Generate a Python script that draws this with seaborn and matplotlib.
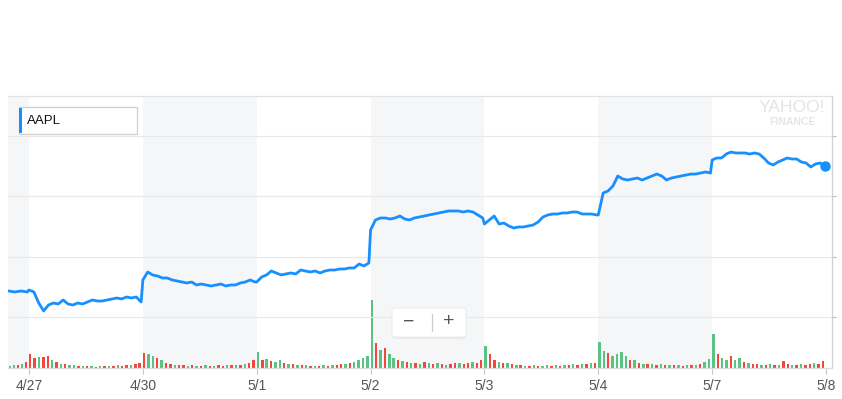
import numpy as np
import pandas as pd
import matplotlib
matplotlib.use("Agg")
import matplotlib.pyplot as plt
from matplotlib.patches import Rectangle, FancyBboxPatch
import seaborn as sns

sns.set_theme(style="white")
plt.rcParams["font.family"] = ["Liberation Sans", "DejaVu Sans"]

# --- data -------------------------------------------------------------
day_labels = ["4/27", "4/30", "5/1", "5/2", "5/3", "5/4", "5/7", "5/8"]

# AAPL price (USD), samples spread evenly over each session
price_prev = [164.31, 164.15, 164.31, 164.15]
price_0427 = [164.48, 164.15, 162.32, 161.00, 161.99, 162.32, 162.16, 162.82,
              162.16, 161.99, 162.32, 162.16, 162.49, 162.82, 162.65, 162.65,
              162.82, 162.99, 163.15, 162.99, 163.32, 163.15, 163.32, 162.49]
price_0430 = [166.14, 167.46, 166.97, 166.80, 166.47, 166.47, 166.14, 165.97,
              165.80, 165.64, 165.80, 165.31, 165.47, 165.31, 165.14, 165.31,
              165.47, 165.14, 165.31, 165.31, 165.64, 165.80, 166.14, 165.80]
price_0501 = [165.80, 166.63, 166.97, 167.63, 167.30, 166.97, 167.13, 167.30,
              167.13, 167.79, 167.63, 167.46, 167.63, 167.30, 167.63, 167.79,
              167.79, 167.96, 167.96, 168.13, 168.13, 168.79, 168.46, 168.96]
price_0502 = [174.43, 176.09, 176.42, 176.42, 176.25, 176.42, 176.75, 176.25,
              176.09, 176.42, 176.58, 176.75, 176.92, 177.08, 177.25, 177.41,
              177.58, 177.58, 177.58, 177.41, 177.58, 177.41, 176.92, 176.42]
price_0503 = [175.42, 176.09, 176.75, 175.42, 175.59, 175.09, 174.76, 174.93,
              174.93, 175.09, 175.26, 175.75, 176.58, 176.92, 177.08, 177.08,
              177.25, 177.25, 177.41, 177.41, 177.08, 177.08, 177.08, 176.92]
price_0504 = [176.92, 180.56, 180.90, 181.72, 183.38, 182.89, 182.72, 182.89,
              183.05, 182.72, 183.05, 183.38, 183.71, 183.38, 182.72, 183.05,
              183.22, 183.38, 183.55, 183.71, 183.71, 183.88, 184.05, 183.88]
price_0507 = [186.04, 186.37, 186.37, 187.03, 187.36, 187.20, 187.20, 187.20,
              187.03, 187.20, 187.03, 186.37, 185.54, 185.21, 185.70, 186.04,
              186.37, 186.20, 186.20, 185.70, 185.54, 184.88, 185.37, 185.54,
              185.04]

# volume per interval (100k shares) and direction (G = up, R = down)
vol_prev = [2, 3, 3, 4, 6]
dir_prev = "GGRGR"
vol_0427 = [14, 10, 11, 11, 12, 8, 6, 4, 4, 3, 3, 2, 2, 2, 2, 1, 2, 2, 2, 2, 3, 2, 3, 3, 4, 5]
dir_0427 = "RRGRRGRGRGGRGRGRGRGRGRRGRR"
vol_0430 = [15, 14, 12, 10, 8, 5, 4, 3, 3, 3, 2, 3, 2, 2, 3, 2, 2, 3, 2, 3, 3, 3, 3, 4, 5, 8]
dir_0430 = "RGGRGRRGRRGRGRGRGRRGRGRGRR"
vol_0501 = [16, 8, 9, 7, 6, 8, 5, 4, 4, 3, 3, 3, 2, 2, 2, 3, 2, 3, 3, 4, 4, 5, 6, 8, 10, 12]
dir_0501 = "GRGRGGRGRGRGRGRGRGRRGRGGGG"
vol_0502 = [68, 25, 18, 20, 14, 10, 8, 7, 6, 5, 5, 4, 6, 5, 4, 5, 4, 3, 4, 5, 5, 4, 5, 6, 5, 8]
dir_0502 = "GRGRGGRGRGRGRGRGRGRRGRRGRR"
vol_0503 = [22, 14, 8, 6, 5, 5, 4, 3, 3, 2, 2, 3, 2, 2, 3, 2, 3, 2, 3, 3, 4, 3, 4, 4, 5, 5]
dir_0503 = "GRRGRGRGRGRGRGGRGRGRGRGRGR"
vol_0504 = [26, 17, 15, 12, 14, 16, 12, 8, 8, 5, 4, 4, 4, 3, 4, 3, 3, 3, 3, 2, 3, 3, 3, 4, 6, 9]
dir_0504 = "GGRGGGGRGRGRGRGRGRGRGRGRGG"
vol_0507 = [34, 14, 10, 8, 12, 8, 10, 6, 5, 4, 4, 3, 3, 4, 3, 3, 7, 4, 3, 3, 4, 3, 4, 5, 4, 7]
dir_0507 = "GRGGRGGRGRRGRGRGRRGRGRRGRR"

price_days = [price_0427, price_0430, price_0501, price_0502, price_0503, price_0504, price_0507]
vol_days = [vol_0427, vol_0430, vol_0501, vol_0502, vol_0503, vol_0504, vol_0507]
dir_days = [dir_0427, dir_0430, dir_0501, dir_0502, dir_0503, dir_0504, dir_0507]

# --- build tables -----------------------------------------------------
PREV = 0.18
xs = list(np.linspace(-PREV, -0.015, len(price_prev)))
ps = list(price_prev)
for d, day in enumerate(price_days):
    end = 0.99 if d == len(price_days) - 1 else 0.985
    xs += list(d + np.linspace(0, end, len(day)))
    ps += day
price_df = pd.DataFrame({"t": xs, "price": ps})

vx = list(-PREV + np.arange(len(vol_prev)) * PREV / len(vol_prev))
vv = list(vol_prev)
vd = list(dir_prev)
for d, (vol, dr) in enumerate(zip(vol_days, dir_days)):
    vx += list(d + np.arange(len(vol)) / len(vol))
    vv += vol
    vd += list(dr)
vol_df = pd.DataFrame({"t": vx, "vol": vv, "dir": vd})

BLUE = "#188fff"
GREEN = "#5cc283"
RED = "#f0483d"
SHADE = "#f5f6f7"

# --- figure -----------------------------------------------------------
W, H = 842, 399
fig = plt.figure(figsize=(W / 100, H / 100), dpi=100)
fig.patch.set_facecolor("white")
ax = fig.add_axes([8 / W, 1 - 368 / H, 824 / W, 272 / H])
axv = ax.twinx()
ax.set_zorder(axv.get_zorder() + 1)
ax.patch.set_visible(False)

x_left = -(29 - 8) / 113.86
x_right = (832 - 29) / 113.86

# alternating day shading (background)
axv.axvspan(x_left, 0, color=SHADE, lw=0, zorder=0)
for d in (1, 3, 5):
    axv.axvspan(d, d + 1, color=SHADE, lw=0, zorder=0)

# volume bars
bw = 0.55 / 26
colors = vol_df["dir"].map({"G": GREEN, "R": RED})
axv.bar(vol_df["t"], vol_df["vol"], width=bw, align="edge", color=colors, lw=0, zorder=2)
axv.set_ylim(0, 272)
axv.set_yticks([])
for s in axv.spines.values():
    s.set_visible(False)

# price line
sns.lineplot(data=price_df, x="t", y="price", color=BLUE, lw=2.0, estimator=None,
             sort=False, ax=ax, zorder=5)
ax.plot(price_df["t"].iloc[-1], price_df["price"].iloc[-1], "o", ms=6.5,
        color=BLUE, zorder=6)

ax.set_xlim(x_left, x_right)
ax.set_ylim(151.54, 196.65)
ax.set_xlabel("")
ax.set_ylabel("")

ax.set_xticks(range(len(day_labels)))
ax.set_xticklabels(day_labels)
ax.tick_params(axis="x", bottom=True, length=4, width=0.8, color="#c8c8c8",
               labelsize=10, labelcolor="#555555", pad=4)

ax.yaxis.tick_right()
ax.set_yticks([160, 170, 180, 190])
ax.set_yticklabels([])
ax.tick_params(axis="y", right=True, length=3, width=0.8, color="#bbbbbb")
ax.grid(axis="y", color="#e8e8e8", lw=0.8)
ax.set_axisbelow(True)

for side in ("left",):
    ax.spines[side].set_visible(False)
ax.spines["top"].set_color("#e2e2e2")
ax.spines["right"].set_color("#d0d0d0")
ax.spines["bottom"].set_color("#dcdcdc")
for s in ("top", "right", "bottom"):
    ax.spines[s].set_linewidth(0.9)


def fx(px):
    return px / W


def fy(py):
    return 1 - py / H


# ticker legend box
fig.add_artist(Rectangle((fx(19), fy(134)), fx(137) - fx(19), fy(107) - fy(134),
                         transform=fig.transFigure, fc="white", ec="#cfcfcf", lw=0.9, zorder=10))
fig.add_artist(Rectangle((fx(19), fy(133)), fx(22) - fx(19), fy(108) - fy(133),
                         transform=fig.transFigure, fc=BLUE, ec="none", zorder=11))
fig.text(fx(27), fy(121), "AAPL", fontsize=9.5, color="#111111", va="center",
         ha="left", zorder=12)

# watermark
fig.text(fx(792), fy(107), "YAHOO!", fontsize=12.5, color="#e4e4e4",
         ha="center", va="center", zorder=3)
fig.text(fx(792), fy(122), "FINANCE", fontsize=7.5, fontweight="bold",
         color="#e6e6e6", ha="center", va="center", zorder=3)

# zoom control
fig.add_artist(FancyBboxPatch((fx(393), fy(339)), fx(466) - fx(393), fy(309) - fy(339),
                              boxstyle="round,pad=0,rounding_size=0.004",
                              transform=fig.transFigure, fc="#e6e6e6", ec="none",
                              alpha=0.7, zorder=13))
fig.add_artist(FancyBboxPatch((fx(392), fy(337)), fx(466) - fx(392), fy(308) - fy(337),
                              boxstyle="round,pad=0,rounding_size=0.004",
                              transform=fig.transFigure, fc="white", ec="#ececec",
                              lw=0.8, zorder=14))
fig.add_artist(plt.Line2D([fx(432), fx(432)], [fy(331), fy(314)],
                          transform=fig.transFigure, color="#cccccc", lw=0.9, zorder=15))
fig.text(fx(409), fy(322), "\u2212", fontsize=14, color="#555555",
         ha="center", va="center", zorder=15)
fig.text(fx(449), fy(322), "+", fontsize=14, color="#555555",
         ha="center", va="center", zorder=15)

fig.savefig("out.png", dpi=100, facecolor="white")
